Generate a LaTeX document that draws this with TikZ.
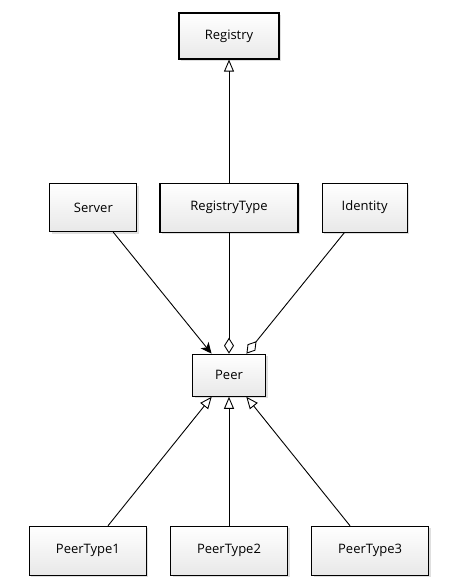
\documentclass[tikz,border=0pt]{standalone}
\usepackage{fontspec}
\setmainfont{Open Sans}
\usetikzlibrary{positioning,arrows.meta,shadows}

\begin{document}
\begin{tikzpicture}
\tikzset{
    entity/.style={rectangle, draw=black, line width=1.1pt, top color=white, bottom color=gray!18, inner sep=0pt, font=\fontsize{13}{15}\selectfont, drop shadow={opacity=0.25, shadow xshift=2pt, shadow yshift=-2pt}},
    inherit/.style={line width=0.9pt, -{Triangle[open, length=12pt, width=10pt]}},
    aggr/.style={line width=0.9pt, -{Diamond[open, length=16pt, width=10pt]}},
    assoc/.style={line width=0.9pt, -{Stealth[length=11pt, width=10pt, inset=3pt]}}
}
\useasboundingbox (0,0) rectangle (462pt,-584pt);
\node[entity, minimum width=100pt, minimum height=46pt] (registry) at (229pt,-36pt) {Registry};
\node[entity, minimum width=138pt, minimum height=49pt, below=123pt of registry] (regtype) {RegistryType};
\node[entity, minimum width=87pt, minimum height=48pt, left=22pt of regtype] (server) {Server};
\node[entity, minimum width=85pt, minimum height=49pt, right=23pt of regtype] (identity) {Identity};
\node[entity, minimum width=73pt, minimum height=42pt, below=121pt of regtype] (peer) {Peer};
\node[entity, minimum width=117pt, minimum height=49pt, below=129pt of peer] (peertwo) {PeerType2};
\node[entity, minimum width=117pt, minimum height=49pt, left=23pt of peertwo] (peerone) {PeerType1};
\node[entity, minimum width=117pt, minimum height=49pt, right=23pt of peertwo] (peerthree) {PeerType3};

\draw[inherit] (regtype) -- (registry);
\draw[assoc] (server) -- (peer);
\draw[aggr] (regtype) -- (peer);
\draw[aggr] (identity) -- (peer);
\draw[inherit] (peerone) -- (peer);
\draw[inherit] (peertwo) -- (peer);
\draw[inherit] (peerthree) -- (peer);
\end{tikzpicture}
\end{document}
